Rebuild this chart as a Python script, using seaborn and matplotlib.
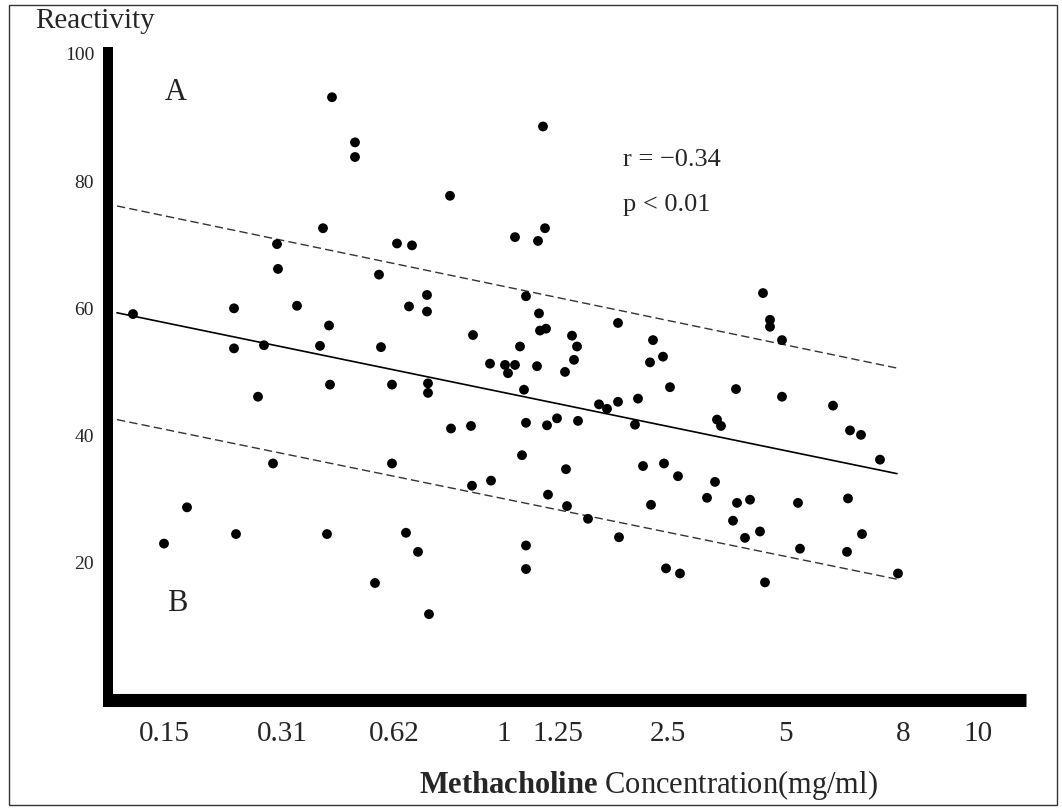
import numpy as np
import pandas as pd
import matplotlib
matplotlib.use("Agg")
import matplotlib.pyplot as plt
from matplotlib.patches import Rectangle
import seaborn as sns

# -------------------------
# data (x = position along the dose axis, y = reactivity)
# -------------------------
tick_pos = [5.6, 17.4, 28.6, 39.6, 45.0, 56.0, 67.7, 79.5, 87.0]
tick_labels = ["0.15", "0.31", "0.62", "1", "1.25", "2.5", "5", "8", "10"]
y_ticks = [20, 40, 60, 80, 100]

dose_pos = [
    2.5, 22.4, 24.7, 24.7, 34.2, 21.5, 16.9, 28.9, 30.4, 17.0,
    27.1, 31.9, 12.6, 18.9, 30.1, 31.9, 22.1, 12.6, 15.6, 21.2,
    27.3, 22.2, 28.4, 32.0, 32.0, 15.0, 34.3, 16.5, 28.4, 7.9,
    5.6, 12.8, 21.9, 29.8, 31.0, 26.7, 32.1, 43.5, 40.7, 43.7,
    43.0, 41.8, 43.1, 43.2, 43.8, 36.5, 46.4, 51.0, 54.5, 46.9,
    41.2, 38.2, 39.7, 40.7, 40.0, 42.9, 45.7, 46.6, 54.2, 55.5,
    41.6, 56.2, 62.8, 49.1, 49.9, 51.0, 53.0, 36.3, 41.8, 43.9,
    44.9, 47.0, 52.7, 60.9, 61.3, 41.4, 45.8, 53.5, 55.6, 57.0,
    60.7, 36.4, 38.3, 44.0, 45.9, 48.0, 54.3, 59.9, 62.9, 62.5,
    51.1, 41.8, 41.8, 55.8, 57.2, 65.5, 66.2, 66.2, 67.4, 67.4,
    72.5, 74.2, 75.3, 77.2, 64.2, 69.0, 74.0, 63.7, 65.2, 69.2,
    73.9, 75.4, 65.7, 79.0,
]
reactivity = [
    59.1, 93.2, 86.1, 83.8, 77.7, 72.6, 70.1, 70.2, 69.9, 66.2,
    65.3, 62.1, 60.0, 60.4, 60.3, 59.5, 57.3, 53.7, 54.2, 54.1,
    53.9, 48.0, 48.0, 48.2, 46.7, 46.1, 41.1, 35.6, 35.6, 28.7,
    23.0, 24.5, 24.5, 24.7, 21.7, 16.8, 11.9, 88.6, 71.2, 72.6,
    70.6, 61.9, 59.2, 56.5, 56.8, 55.8, 55.7, 57.7, 55.0, 54.0,
    54.0, 51.3, 51.1, 51.1, 49.8, 50.9, 50.0, 51.9, 51.5, 52.4,
    47.2, 47.6, 47.3, 44.9, 44.2, 45.3, 45.8, 41.5, 42.0, 41.6,
    42.7, 42.3, 41.7, 42.5, 41.5, 36.9, 34.7, 35.2, 35.6, 33.6,
    32.7, 32.1, 32.9, 30.7, 28.9, 26.9, 29.1, 30.2, 29.4, 26.6,
    24.0, 22.7, 19.0, 19.1, 18.3, 62.4, 58.2, 57.1, 55.0, 46.1,
    44.7, 40.8, 40.1, 36.2, 29.9, 29.4, 30.1, 23.9, 24.9, 22.2,
    21.7, 24.5, 16.9, 18.3,
]

# regression line and the two band lines (end values)
line_pos = [0.9, 78.9]
fit_mid = [59.3, 34.0]
fit_upper = [76.1, 50.6]
fit_lower = [42.5, 17.4]

# -------------------------
# style
# -------------------------
sns.set_style("white")
plt.rcParams["font.family"] = ["Liberation Serif", "DejaVu Serif"]
plt.rcParams["mathtext.fontset"] = "custom"
plt.rcParams["mathtext.rm"] = "Liberation Serif"
plt.rcParams["mathtext.bf"] = "Liberation Serif:bold"

W, H = 1062, 808
fig = plt.figure(figsize=(W / 100, H / 100), dpi=100)
ax = fig.add_axes([108 / W, 1 - 700 / H, (1026 - 108) / W, (700 - 47) / H])

df = pd.DataFrame({"pos": dose_pos, "react": reactivity})
sns.scatterplot(data=df, x="pos", y="react", color="black", s=50,
                edgecolor="none", ax=ax, legend=False, zorder=3)

sns.lineplot(x=line_pos, y=fit_mid, color="black", lw=1.2, ax=ax)
sns.lineplot(x=line_pos, y=fit_upper, color="#333333", lw=1.0,
             dashes=False, ax=ax).lines[-1].set_dashes((6, 3))
sns.lineplot(x=line_pos, y=fit_lower, color="#333333", lw=1.0,
             dashes=False, ax=ax).lines[-1].set_dashes((6, 3))

ax.set_xlim(0, 91.8)
ax.set_ylim(-1.6, 101.1)
ax.set_xticks(tick_pos)
ax.set_xticklabels(tick_labels)
ax.set_yticks(y_ticks)
ax.set_xlabel("")
ax.set_ylabel("")
ax.tick_params(axis="x", length=0, labelsize=21, pad=15)
ax.tick_params(axis="y", length=0, labelsize=14, pad=10)

sns.despine(ax=ax)
for side, lw in (("left", 7.2), ("bottom", 9.4)):
    ax.spines[side].set_linewidth(lw)
    ax.spines[side].set_color("black")
    ax.spines[side].set_capstyle("butt")
# let the vertical bar run down to the bottom edge of the thick x axis
ax.spines["left"].set_bounds(-2.65, 101.1)

# annotations
ax.text(51.5, 83.3, "r = \u22120.34", fontsize=19, va="center", ha="left")
ax.text(51.5, 76.3, "p < 0.01", fontsize=19, va="center", ha="left")
ax.text(6.8, 94.0, "A", fontsize=22, va="center", ha="center", color="#222222")
ax.text(6.9, 13.5, "B", fontsize=22, va="center", ha="center", color="#222222")

fig.text(35 / W, 1 - 21 / H, "Reactivity", fontsize=21, ha="left", va="center")
fig.text(648 / W, 1 - 785 / H, r"$\mathbf{Methacholine}$ Concentration(mg/ml)",
         fontsize=22, ha="center", va="center")

# scanned frame
fig.patches.append(Rectangle((9 / W, 1 - 805 / H), (1057 - 9) / W, (805 - 5) / H,
                             transform=fig.transFigure, fill=False, lw=1.0,
                             ec="#333333"))

fig.savefig("out.png", dpi=100)
